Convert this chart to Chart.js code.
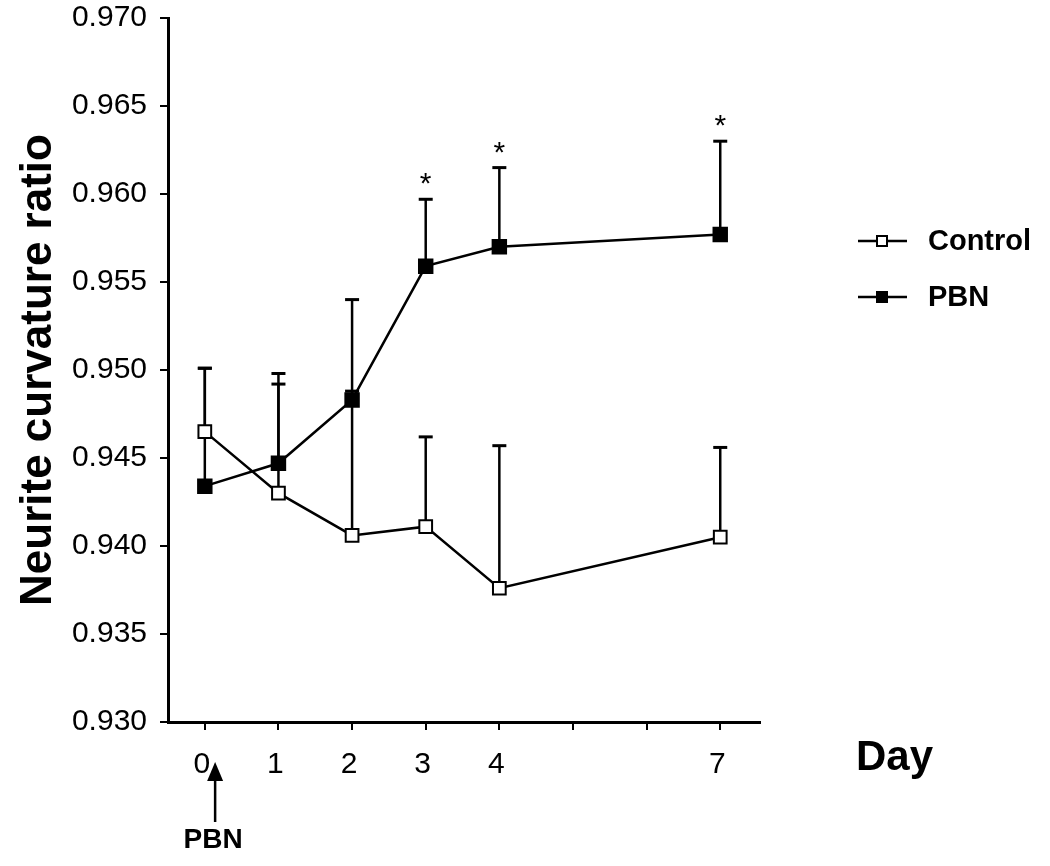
<!DOCTYPE html>
<html>
<head>
<meta charset="utf-8">
<script src="https://cdn.jsdelivr.net/npm/chart.js@4.4.1/dist/chart.umd.min.js"></script>
<style>
  html, body { margin: 0; padding: 0; background: #fff; }
  canvas { display: block; }
</style>
</head>
<body>
<canvas id="chart" width="1050" height="866"></canvas>
<script>
// Values
const days = [0, 1, 2, 3, 4, 7];
const tickDays = [0, 1, 2, 3, 4, 5, 6, 7];
const tickLabels = ['0', '1', '2', '3', '4', '', '', '7'];

const controlMean = [0.9465, 0.9430, 0.9406, 0.9411, 0.9376, 0.9405];
const controlUpper = [0.9501, 0.9492, 0.9488, 0.9462, 0.9457, 0.9456];
const pbnMean = [0.9434, 0.9447, 0.9483, 0.9559, 0.9570, 0.9577];
const pbnUpper = [0.9501, 0.9498, 0.9540, 0.9597, 0.9615, 0.9630];

const starDays = [3, 4, 7];
const pbnArrowDay = 0.14;

Chart.defaults.font.family = 'Arial, "Liberation Sans", sans-serif';
Chart.defaults.color = '#000';

// Error bars (upper only), drawn under the markers
const errorBars = {
  id: 'errorBars',
  beforeDatasetsDraw(chart) {
    const { ctx, scales: { x, y } } = chart;
    ctx.save();
    ctx.strokeStyle = '#000';
    [[controlMean, controlUpper], [pbnMean, pbnUpper]].forEach(([means, upper]) => {
      days.forEach((d, j) => {
        const px = x.getPixelForValue(d);
        const y0 = y.getPixelForValue(means[j]);
        const y1 = y.getPixelForValue(upper[j]);
        ctx.lineWidth = 2.5;
        ctx.beginPath();
        ctx.moveTo(px, y0);
        ctx.lineTo(px, y1);
        ctx.stroke();
        ctx.lineWidth = 3;
        ctx.beginPath();
        ctx.moveTo(px - 7, y1);
        ctx.lineTo(px + 7, y1);
        ctx.stroke();
      });
    });
    ctx.restore();
  }
};

// Stars, "Day", PBN arrow and legend
const extras = {
  id: 'extras',
  afterDraw(chart) {
    const { ctx, scales: { x, y } } = chart;
    ctx.save();
    ctx.fillStyle = '#000';
    ctx.strokeStyle = '#000';

    // significance stars
    ctx.font = '30px Arial, "Liberation Sans", sans-serif';
    ctx.textAlign = 'center';
    ctx.textBaseline = 'alphabetic';
    starDays.forEach(d => {
      const j = days.indexOf(d);
      ctx.fillText('*', x.getPixelForValue(d), y.getPixelForValue(pbnUpper[j]) - 6);
    });

    // x axis title
    ctx.font = 'bold 42px Arial, "Liberation Sans", sans-serif';
    ctx.textAlign = 'left';
    ctx.fillText('Day', 856, 770);

    // PBN arrow under day 0
    const ax = x.getPixelForValue(pbnArrowDay);
    ctx.beginPath();
    ctx.moveTo(ax, 762);
    ctx.lineTo(ax - 8, 781);
    ctx.lineTo(ax + 8, 781);
    ctx.closePath();
    ctx.fill();
    ctx.lineWidth = 2.5;
    ctx.beginPath();
    ctx.moveTo(ax, 780);
    ctx.lineTo(ax, 822);
    ctx.stroke();
    ctx.font = 'bold 28px Arial, "Liberation Sans", sans-serif';
    ctx.textAlign = 'center';
    ctx.fillText('PBN', ax - 2, 848);

    // legend
    const items = [
      { label: 'Control', fill: '#fff', y: 241 },
      { label: 'PBN', fill: '#000', y: 297 }
    ];
    ctx.font = 'bold 29px Arial, "Liberation Sans", sans-serif';
    ctx.textAlign = 'left';
    ctx.textBaseline = 'middle';
    items.forEach(it => {
      ctx.lineWidth = 2.5;
      ctx.beginPath();
      ctx.moveTo(858, it.y);
      ctx.lineTo(907, it.y);
      ctx.stroke();
      ctx.fillStyle = it.fill;
      ctx.fillRect(877, it.y - 5, 10, 10);
      ctx.lineWidth = 2;
      ctx.strokeRect(877, it.y - 5, 10, 10);
      ctx.fillStyle = '#000';
      ctx.fillText(it.label, 928, it.y + 1);
    });
    ctx.restore();
  }
};

new Chart(document.getElementById('chart'), {
  type: 'line',
  data: {
    datasets: [
      {
        label: 'Control',
        data: days.map((d, i) => ({ x: d, y: controlMean[i] })),
        borderColor: '#000',
        borderWidth: 2.5,
        pointStyle: 'rect',
        pointRadius: 9,
        pointBorderWidth: 2,
        pointBackgroundColor: '#fff',
        pointBorderColor: '#000',
        tension: 0
      },
      {
        label: 'PBN',
        data: days.map((d, i) => ({ x: d, y: pbnMean[i] })),
        borderColor: '#000',
        borderWidth: 2.5,
        pointStyle: 'rect',
        pointRadius: 9.5,
        pointBorderWidth: 2,
        pointBackgroundColor: '#000',
        pointBorderColor: '#000',
        tension: 0
      }
    ]
  },
  options: {
    responsive: false,
    animation: false,
    devicePixelRatio: 1,
    layout: { padding: { top: 18, right: 290, bottom: 0, left: 0 } },
    plugins: { legend: { display: false }, tooltip: { enabled: false } },
    scales: {
      x: {
        type: 'linear',
        min: -0.5,
        max: 7.54,
        afterBuildTicks: scale => { scale.ticks = tickDays.map(v => ({ value: v })); },
        afterFit: scale => {
          scale.height = 144;
          scale.paddingLeft = 0;
          scale.paddingRight = 0;
        },
        ticks: {
          autoSkip: false,
          maxRotation: 0,
          padding: 17,
          labelOffset: -3,
          font: { size: 30 },
          callback: v => tickLabels[tickDays.indexOf(v)] ?? ''
        },
        grid: { drawOnChartArea: false, drawTicks: true, tickLength: 8, color: '#000', lineWidth: 2 },
        border: { display: true, color: '#000', width: 3 }
      },
      y: {
        min: 0.930,
        max: 0.970,
        afterFit: scale => {
          scale.width = 168;
          scale.paddingTop = 0;
          scale.paddingBottom = 0;
        },
        ticks: {
          stepSize: 0.005,
          padding: 13,
          font: { size: 30 },
          callback: v => v.toFixed(3)
        },
        grid: { drawOnChartArea: false, drawTicks: true, tickLength: 8, color: '#000', lineWidth: 2 },
        border: { display: true, color: '#000', width: 3 },
        title: {
          display: true,
          text: 'Neurite curvature ratio',
          font: { size: 44, weight: 'bold' },
          padding: { top: 12, bottom: 0 }
        }
      }
    }
  },
  plugins: [errorBars, extras]
});
</script>
</body>
</html>
